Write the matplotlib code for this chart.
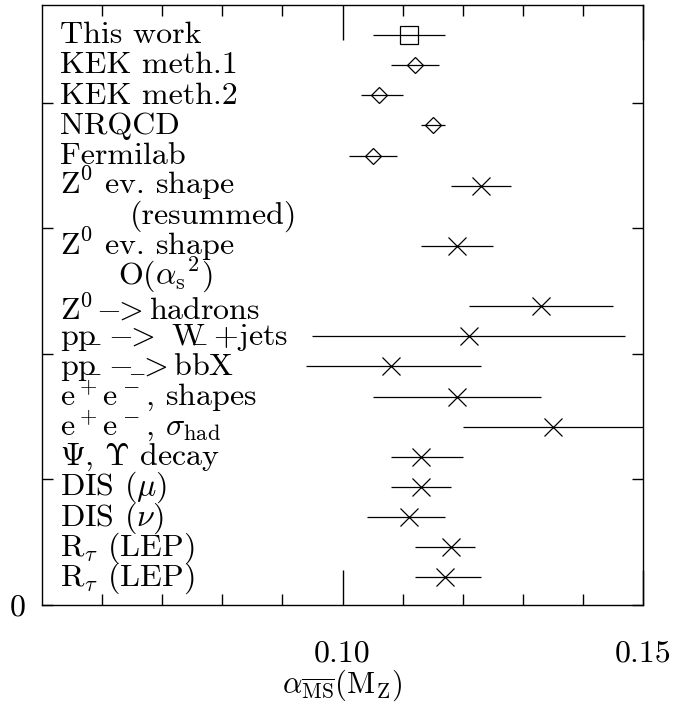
import matplotlib
matplotlib.use("Agg")
import matplotlib.pyplot as plt
import matplotlib.transforms as mtransforms
import numpy as np

plt.rcParams['mathtext.fontset'] = 'cm'
plt.rcParams['font.family'] = 'serif'
plt.rcParams['font.serif'] = ['cmr10']
plt.rcParams['axes.unicode_minus'] = False

# ---- data ----
labels = [
    "This work",
    "KEK meth.1",
    "KEK meth.2",
    "NRQCD",
    "Fermilab",
    r"Z$^0$ ev. shape",
    "(resummed)",
    r"Z$^0$ ev. shape",
    r"O($\alpha_{\mathrm{s}}{}^{2}$)",
    r"Z$^0_{-}\!\!-\!\!\!>$hadrons",
    r"p$\mathrm{p}_{\!\!\!\!\!-}\!-\!\!\!>$ $\mathrm{W}_{\!\!\!\!\!\!-}$+jets",
    r"p$\mathrm{p}_{\!\!\!\!\!-}\!-_{\!\!\!\!\!-}\!\!\!>$bbX",
    r"e$^+$e$^-$, shapes",
    r"e$^+$e$^-$, $\sigma_{\mathrm{had}}$",
    r"$\Psi$, $\Upsilon$ decay",
    r"DIS ($\mu$)",
    r"DIS ($\nu$)",
    r"R$_\tau$ (LEP)",
    r"R$_\tau$ (LEP)",
]
# rows (label index) carrying a measurement
point_rows = [0, 1, 2, 3, 4, 5, 7, 9, 10, 11, 12, 13, 14, 15, 16, 17, 18]
values  = [0.111, 0.112, 0.106, 0.115, 0.105, 0.123, 0.119, 0.133, 0.121, 0.108,
           0.119, 0.135, 0.113, 0.113, 0.111, 0.118, 0.117]
err_lo  = [0.006, 0.004, 0.0030, 0.002, 0.004, 0.005, 0.006, 0.012, 0.026, 0.014,
           0.014, 0.015, 0.005, 0.005, 0.007, 0.006, 0.005]
err_hi  = [0.006, 0.004, 0.0040, 0.002, 0.004, 0.005, 0.006, 0.012, 0.026, 0.015,
           0.014, 0.015, 0.007, 0.005, 0.006, 0.004, 0.006]
markers = ['s', 'D', 'D', 'D', 'D', 'x', 'x', 'x', 'x', 'x',
           'x', 'x', 'x', 'x', 'x', 'x', 'x']

xticks_major = [0.10, 0.15]
xtick_labels = ["0.10", "0.15"]

# ---- figure ----
W, H, DPI = 681, 713, 100
fig = plt.figure(figsize=(W / DPI, H / DPI), dpi=DPI)
ax = fig.add_axes([42 / W, 1 - 605 / H, 601 / W, 600 / H])

row_px = 30.13
y_top = (5 - 35) / row_px
y_bot = (605 - 35) / row_px
ax.set_xlim(0.05, 0.15)
ax.set_ylim(y_bot, y_top)

ms_map = {'s': 12.3, 'D': 8.4, 'x': 13.3}
for r, v, lo, hi, m in zip(point_rows, values, err_lo, err_hi, markers):
    ax.errorbar([v], [r], xerr=[[lo], [hi]], fmt='none', ecolor='black',
                elinewidth=0.9, capsize=0, clip_on=True)
    ax.plot([v], [r], marker=m, ms=ms_map[m], mfc='none', mec='black',
            mew=0.9, ls='none')

# labels (indent in pixels for continuation lines)
indent_px = {6: 70, 8: 58}
for i, lab in enumerate(labels):
    dx = (18 + indent_px.get(i, 0)) / DPI
    trans = mtransforms.blended_transform_factory(ax.transAxes, ax.transData)
    trans = trans + mtransforms.ScaledTranslation(dx, -8.3 / DPI, fig.dpi_scale_trans)
    ax.text(0, i, lab, transform=trans, ha='left', va='baseline', fontsize=23)

# ticks
ax.set_xticks(xticks_major)
ax.set_xticklabels(xtick_labels, fontsize=23)
ax.set_xticks(np.arange(0.06, 0.145, 0.01), minor=True)
ax.tick_params(axis='x', which='major', direction='in', length=25, width=1,
               top=True, bottom=True, pad=25)
ax.tick_params(axis='x', which='minor', direction='in', length=8, width=1,
               top=True, bottom=True)
ystep = 125.6 / row_px
yt = [y_bot - k * ystep for k in range(5)]
ax.set_yticks(yt)
ax.set_yticklabels(["0", "", "", "", ""], fontsize=23)
ax.tick_params(axis='y', which='major', direction='in', length=8, width=1,
               left=True, right=True, pad=12)
for sp in ax.spines.values():
    sp.set_linewidth(1.0)

ax.set_xlabel(r"$\alpha_{\overline{\mathrm{MS}}}(\mathrm{M_Z})$", fontsize=22,
              labelpad=0)

fig.savefig("out.png", dpi=DPI)
